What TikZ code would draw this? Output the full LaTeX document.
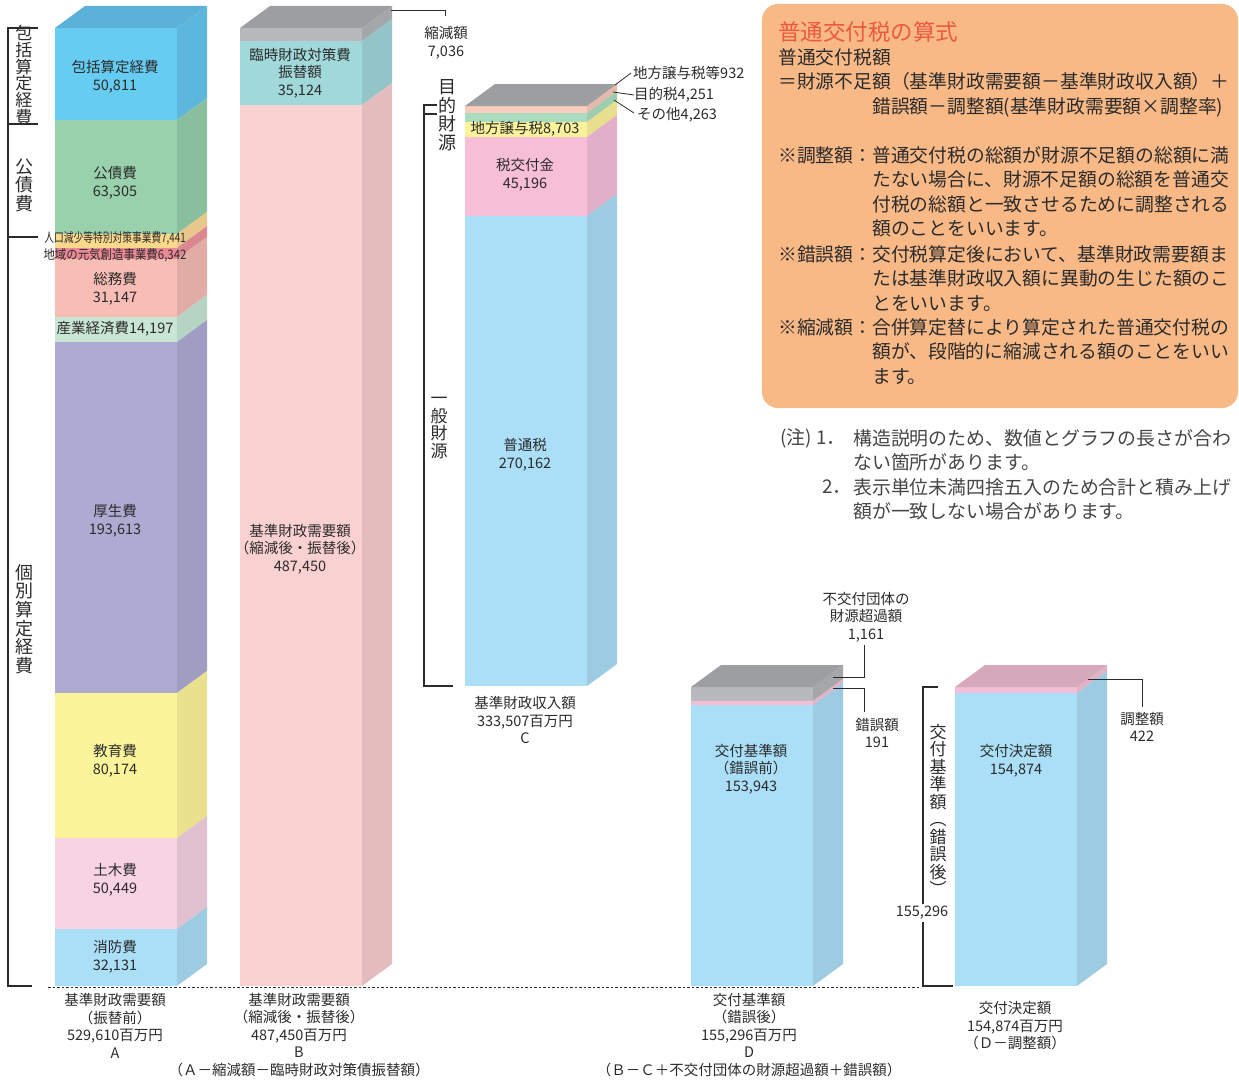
\documentclass[tikz,border=0pt]{standalone}
\usepackage{fontspec}
\setmainfont{Noto Sans CJK JP}
\usepackage{graphicx}
\usepackage{tikz}

\definecolor{ink}{HTML}{2B2B2B}
\definecolor{notegray}{HTML}{454545}
\definecolor{boxor}{HTML}{F8B987}
\definecolor{titlered}{HTML}{EC5A3E}
\definecolor{hoka}{HTML}{66CCF2}\definecolor{hokaS}{HTML}{5DB6DC}\definecolor{hokaT}{HTML}{5BB1D8}
\definecolor{kosai}{HTML}{99D1AC}\definecolor{kosaiS}{HTML}{8ABF9D}
\definecolor{jinko}{HTML}{FBD98C}\definecolor{jinkoS}{HTML}{E8C88A}
\definecolor{chiiki}{HTML}{EB8A96}\definecolor{chiikiS}{HTML}{DC8893}
\definecolor{somu}{HTML}{F8BDB5}\definecolor{somuS}{HTML}{E2ACA6}
\definecolor{sangyo}{HTML}{C9E6D5}\definecolor{sangyoS}{HTML}{B6D4C3}
\definecolor{kosei}{HTML}{AEAAD2}\definecolor{koseiS}{HTML}{A09DC2}
\definecolor{kyoiku}{HTML}{FCF49B}\definecolor{kyoikuS}{HTML}{E9E18E}
\definecolor{doboku}{HTML}{F8D3E4}\definecolor{dobokuS}{HTML}{E1C0CF}
\definecolor{sky}{HTML}{AADFF7}\definecolor{skyS}{HTML}{9DCBE2}
\definecolor{grayF}{HTML}{B8B9BC}\definecolor{grayS}{HTML}{A4A6A9}\definecolor{grayT}{HTML}{9D9EA1}
\definecolor{rinji}{HTML}{A1D9DB}\definecolor{rinjiS}{HTML}{93C5C8}
\definecolor{kijun}{HTML}{F9D1D0}\definecolor{kijunS}{HTML}{E3BDBE}
\definecolor{joyo}{HTML}{F9CDBE}\definecolor{joyoS}{HTML}{E7B9AA}
\definecolor{mokuteki}{HTML}{ACDCC0}\definecolor{mokutekiS}{HTML}{9ECCB1}
\definecolor{chiho}{HTML}{FAF29B}\definecolor{chihoS}{HTML}{E8DF8E}
\definecolor{zeikofu}{HTML}{F6BED7}\definecolor{zeikofuS}{HTML}{E1B0C8}
\definecolor{sakugo}{HTML}{F4BED6}\definecolor{sakugoS}{HTML}{E3B2C6}
\definecolor{choseiT}{HTML}{D5A8BC}

% one slice of a bar: x, top, bottom, front colour, side colour
\newcommand{\barseg}[5]{%
  \fill[#4] (#1,#2) rectangle (#1+122,#3);
  \fill[#5] (#1+122,#2) -- (#1+152,#2-22) -- (#1+152,#3-22) -- (#1+122,#3) -- cycle;
}
% top face of a bar: x, top, colour
\newcommand{\bartop}[3]{%
  \fill[#3] (#1,#2) -- (#1+30,#2-22) -- (#1+152,#2-22) -- (#1+122,#2) -- cycle;
}

\begin{document}
\begin{tikzpicture}[x=1pt,y=-1pt,
    txt/.style={inner sep=0pt,text=ink,align=center,font=\fontsize{14.5}{17.5}\selectfont},
    vtxt/.style={inner sep=0pt,text=ink,align=center,font=\fontsize{18}{18.5}\selectfont},
    boxtxt/.style={inner sep=0pt,text=ink,align=left,font=\fontsize{18.8}{24.6}\selectfont},
    notetxt/.style={inner sep=0pt,text=notegray,align=left,font=\fontsize{18.9}{24.5}\selectfont},
    leader/.style={draw=ink,line width=0.8pt},
    brk/.style={draw=ink,line width=1.1pt}]
\useasboundingbox (0,0) rectangle (1239,1081);

\draw[ink,line width=0.7pt,dash pattern=on 2.5pt off 2pt] (48,987) -- (920,987);

% bar A
\barseg{55}{28}{120}{hoka}{hokaS}
\barseg{55}{120}{234}{kosai}{kosaiS}
\barseg{55}{234}{248}{jinko}{jinkoS}
\barseg{55}{248}{259}{chiiki}{chiikiS}
\barseg{55}{259}{317}{somu}{somuS}
\barseg{55}{317}{342}{sangyo}{sangyoS}
\barseg{55}{342}{693}{kosei}{koseiS}
\barseg{55}{693}{838}{kyoiku}{kyoikuS}
\barseg{55}{838}{929}{doboku}{dobokuS}
\barseg{55}{929}{986}{sky}{skyS}
\bartop{55}{28}{hokaT}

\node[txt] (hokatsu) at (115,77) {包括算定経費\\50,811};
\node[txt] (kosaihi) at (115,183) {公債費\\63,305};
\node[txt] (jinkolbl) at (115,238) {\fontsize{13}{13}\selectfont\scalebox{0.75}[1]{人口減少等特別対策事業費7,441}};
\node[txt] (chiikilbl) at (115,255) {\fontsize{13}{13}\selectfont\scalebox{0.88}[1]{地域の元気創造事業費6,342}};
\node[txt] (somuhi) at (115,289) {総務費\\31,147};
\node[txt] (sangyohi) at (115,329) {産業経済費14,197};
\node[txt] (koseihi) at (115,521) {厚生費\\193,613};
\node[txt] (kyoikuhi) at (115,761) {教育費\\80,174};
\node[txt] (dobokuhi) at (115,880) {土木費\\50,449};
\node[txt] (shobohi) at (115,957) {消防費\\32,131};

% bar B
\barseg{240}{28}{41}{grayF}{grayS}
\barseg{240}{41}{105}{rinji}{rinjiS}
\barseg{240}{105}{986}{kijun}{kijunS}
\bartop{240}{28}{grayT}
\node[txt] (rinjilbl) at (300,73) {臨時財政対策費\\振替額\\35,124};
\node[txt] (kijunlbl) at (300,549) {基準財政需要額\\（縮減後・振替後）\\487,450};

% bar C
\barseg{465}{106}{113}{joyo}{joyoS}
\barseg{465}{113}{122}{mokuteki}{mokutekiS}
\barseg{465}{122}{137}{chiho}{chihoS}
\barseg{465}{137}{216}{zeikofu}{zeikofuS}
\barseg{465}{216}{686}{sky}{skyS}
\bartop{465}{106}{grayT}
\node[txt] (chiholbl) at (525,129) {地方譲与税8,703};
\node[txt] (zeikofulbl) at (525,175) {税交付金\\45,196};
\node[txt] (futsulbl) at (525,455) {普通税\\270,162};

% bar D
\barseg{691}{687}{701}{grayF}{grayS}
\barseg{691}{701}{705}{sakugo}{sakugoS}
\barseg{691}{705}{986}{sky}{skyS}
\bartop{691}{687}{grayT}
\node[txt] (kofumae) at (751,769) {交付基準額\\（錯誤前）\\153,943};

% bar E
\barseg{955}{687}{693}{sakugo}{sakugoS}
\barseg{955}{693}{986}{sky}{skyS}
\bartop{955}{687}{choseiT}
\node[txt] (kettei) at (1016,761) {交付決定額\\154,874};

% brackets
\draw[brk] (38,28) -- (8,28) -- (8,986) -- (32,986);
\draw[brk] (8,124) -- (38,124);
\draw[brk] (8,237) -- (38,237);
\node[vtxt,font=\fontsize{17}{15}\selectfont] (hokatsuv) at (24,75) {包\\括\\算\\定\\経\\費};
\node[vtxt] (kosaiv) at (24,185) {公\\債\\費};
\node[vtxt,font=\fontsize{18}{18.7}\selectfont] (kobetsuv) at (24,619) {個\\別\\算\\定\\経\\費};

\draw[brk] (437,105) -- (424,105) -- (424,686) -- (453,686);
\draw[brk] (424,114) -- (437,114);
\node[vtxt] (mokutekiv) at (447,115) {目\\的\\財\\源};
\node[vtxt,font=\fontsize{17}{17.5}\selectfont] (ippanv) at (439,428) {一\\般\\財\\源};

\draw[brk] (938,687) -- (923,687) -- (923,986) -- (953,986);
\node[txt,fill=white,inner sep=2pt] (kijungo) at (922,913) {155,296};
\node[vtxt,font=\fontsize{17}{17.5}\selectfont] (kofukijunv) at (938,810) {交\\付\\基\\準\\額\\︵\\錯\\誤\\後\\︶};

% leaders
\coordinate (shukugenpt) at (391,10);
\coordinate (shukugenend) at (445,16);
\node[txt] (shukugen) at (446,43) {縮減額\\7,036};
\draw[leader] (shukugenpt) -| (shukugenend);

\coordinate (joyopt) at (615,85);
\coordinate (mokutekipt) at (613,92);
\coordinate (sonotapt) at (614,100);
\node[txt,anchor=west] (joyolbl) at (633,73) {地方譲与税等932};
\node[txt,anchor=west] (mokutekilbl) at (634,95) {目的税4,251};
\node[txt,anchor=west] (sonotalbl) at (637,115) {その他4,263};
\draw[leader] (joyopt) -- ([xshift=-2pt]joyolbl.west);
\draw[leader] (mokutekipt) -- (mokutekilbl.west);
\draw[leader] (sonotapt) -- ([xshift=-3pt,yshift=2pt]sonotalbl.west);

\coordinate (fukofupt) at (833,677);
\coordinate (fukofuend) at (864,645);
\node[txt] (fukofu) at (866,617) {不交付団体の\\財源超過額\\1,161};
\draw[leader] (fukofupt) -| (fukofuend);

\coordinate (sakugopt) at (833,688);
\coordinate (sakugoend) at (864,712);
\node[txt] (sakugolbl) at (877,733) {錯誤額\\191};
\draw[leader] (sakugopt) -| (sakugoend);

\coordinate (choseipt) at (1088,679);
\coordinate (choseiend) at (1142,707);
\node[txt] (choseilbl) at (1142,727) {調整額\\422};
\draw[leader] (choseipt) -| (choseiend);

% captions under the bars
\node[txt] (capA) at (115,1026) {基準財政需要額\\（振替前）\\529,610百万円\\A};
\node[txt] (capB) at (299,1035) {基準財政需要額\\（縮減後・振替後）\\487,450百万円\\B\\（Ａ－縮減額－臨時財政対策債振替額）};
\node[txt] (capC) at (525,720) {基準財政収入額\\333,507百万円\\C};
\node[txt] (capD) at (749,1035) {交付基準額\\（錯誤後）\\155,296百万円\\D\\（Ｂ－Ｃ＋不交付団体の財源超過額＋錯誤額）};
\node[txt] (capE) at (1015,1026) {交付決定額\\154,874百万円\\（Ｄ－調整額）};

% formula box
\fill[boxor,rounded corners=16pt] (762,4) rectangle (1238,408);
\node[anchor=west,inner sep=0pt,text=titlered,font=\fontsize{22.5}{22.5}\selectfont] (title) at (778,32) {普通交付税の算式};
\node[boxtxt,anchor=north west] (formula) at (778,48) {普通交付税額\\＝財源不足額（基準財政需要額－基準財政収入額）＋};
\node[boxtxt,anchor=north west] (formula2) at (872,97) {錯誤額－調整額(基準財政需要額×調整率)};
\node[boxtxt,anchor=west] (chosei) at (778,155) {※調整額：};
\node[boxtxt,anchor=north west] (choseitxt) at (872,146) {普通交付税の総額が財源不足額の総額に満\\たない場合に、財源不足額の総額を普通交\\付税の総額と一致させるために調整される\\額のことをいいます。};
\node[boxtxt,anchor=west] (sakugo) at (778,254) {※錯誤額：};
\node[boxtxt,anchor=north west] (sakugotxt) at (872,245) {交付税算定後において、基準財政需要額ま\\たは基準財政収入額に異動の生じた額のこ\\とをいいます。};
\node[boxtxt,anchor=west] (shukugenk) at (778,327) {※縮減額：};
\node[boxtxt,anchor=north west] (shukugentxt) at (872,318) {合併算定替により算定された普通交付税の\\額が、段階的に縮減される額のことをいい\\ます。};

% notes
\node[notetxt,anchor=west] (chu1) at (780,438) {(注) 1．};
\node[notetxt,anchor=north west] (chu1txt) at (853,429) {構造説明のため、数値とグラフの長さが合わ\\ない箇所があります。};
\node[notetxt,anchor=west] (chu2) at (822,487) {2．};
\node[notetxt,anchor=north west] (chu2txt) at (853,478) {表示単位未満四捨五入のため合計と積み上げ\\額が一致しない場合があります。};

\end{tikzpicture}
\end{document}
